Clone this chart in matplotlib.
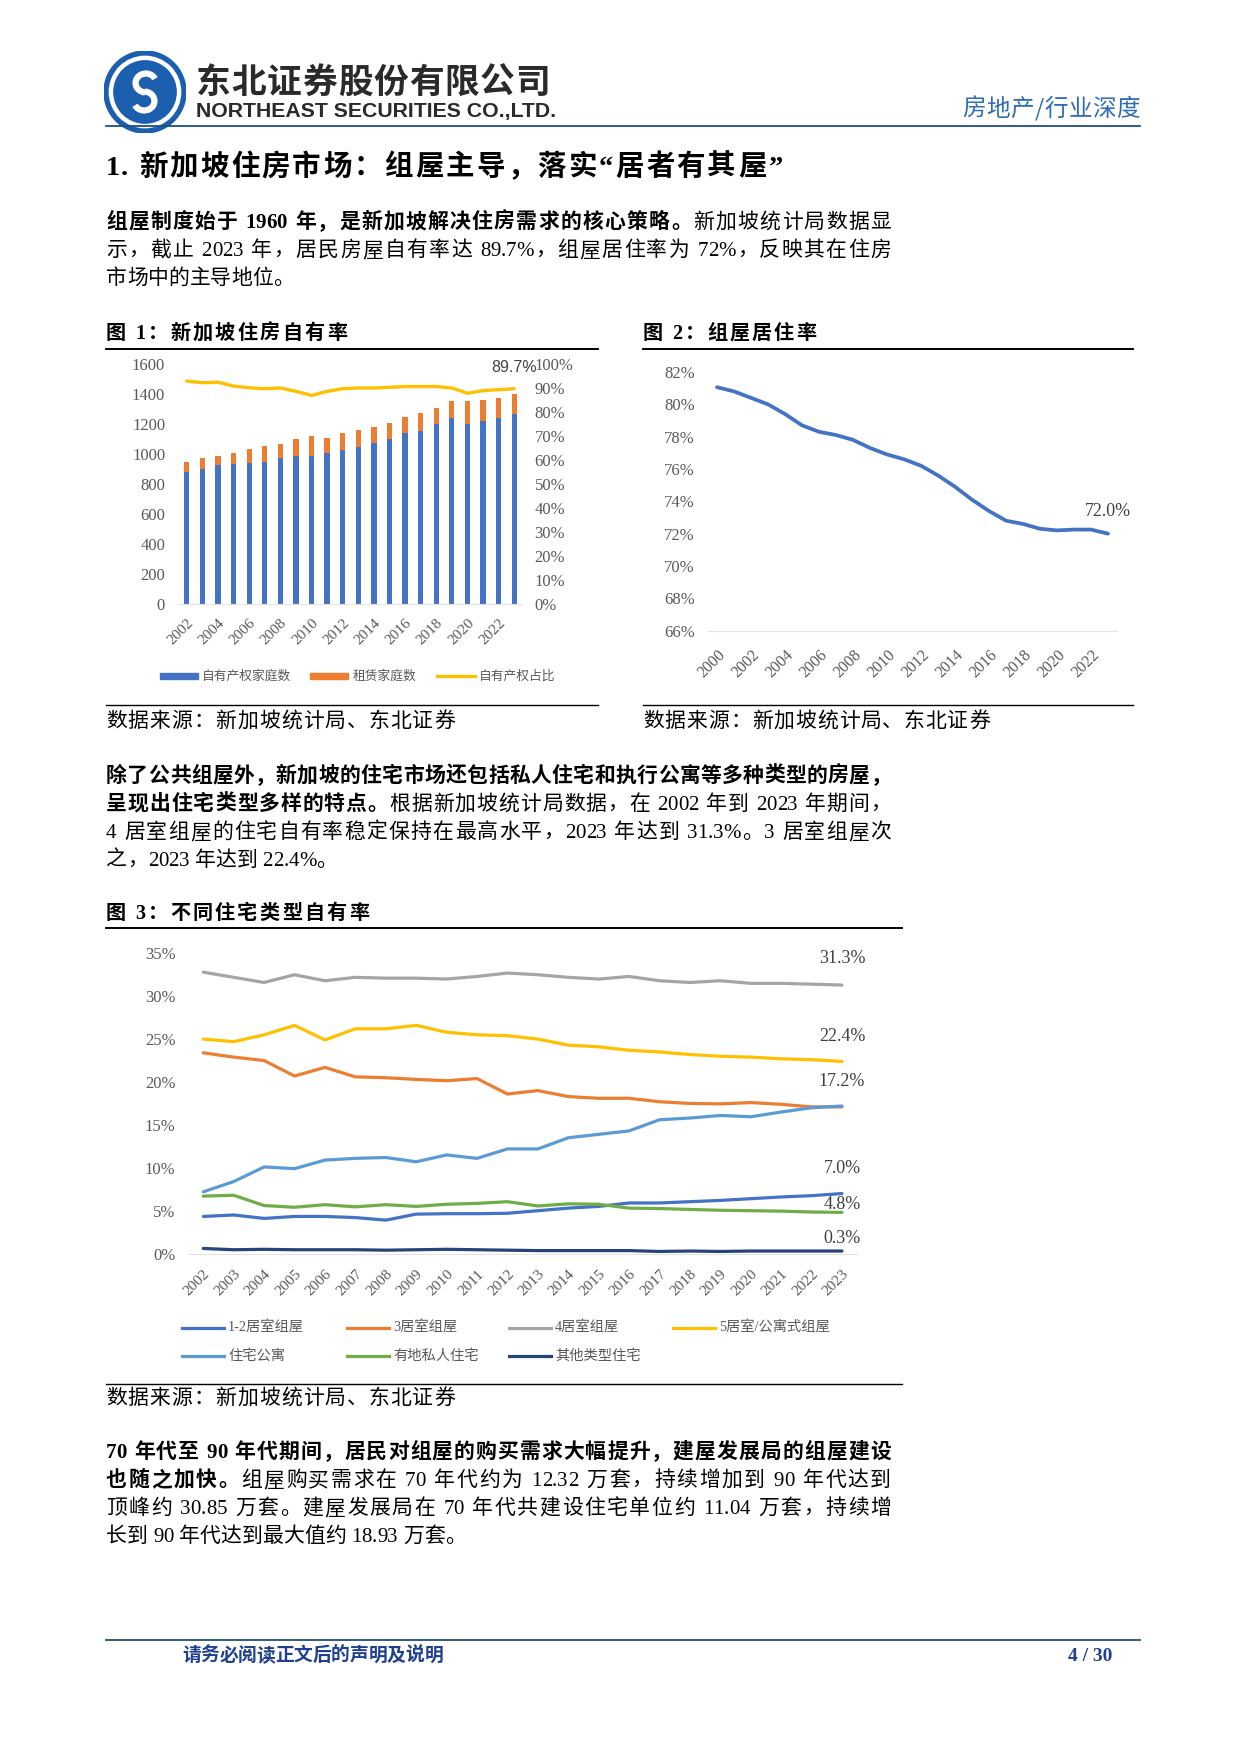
import numpy as np
import matplotlib.pyplot as plt
from matplotlib.lines import Line2D
from matplotlib.patches import Circle, Arc, Rectangle
from matplotlib.font_manager import FontProperties, findfont, get_font

W, H = 1241, 1754
CJK = 'Noto Sans CJK SC'
SERIF = ['Liberation Serif', CJK]
SANS = ['Liberation Sans', CJK]
plt.rcParams['font.family'] = SERIF

# ---- data ----
# fig 1: households (thousands) and home ownership rate
years1 = list(range(2002, 2024))
own_hh = [882, 898, 927, 933, 938, 949, 971, 987, 987, 1004, 1027, 1049,
          1071, 1098, 1142, 1156, 1200, 1238, 1200, 1220, 1238, 1267]
rent_hh = [67, 73, 60, 71, 93, 104, 96, 115, 133, 105, 111, 111,
           111, 111, 102, 115, 109, 118, 153, 140, 133, 133]
own_rate = [92.9, 92.2, 92.4, 90.8, 90.1, 89.7, 90.0, 88.6, 86.9, 88.6, 89.7, 90.0,
            90.0, 90.3, 90.6, 90.6, 90.6, 90.0, 87.8, 88.9, 89.3, 89.7]
legend1 = ['自有产权家庭数', '租赁家庭数', '自有产权占比']

# fig 2: share living in HDB flats
years2 = list(range(2000, 2024))
hdb_rate = [81.06, 80.8, 80.4, 80.0, 79.4, 78.7, 78.3, 78.1, 77.8, 77.3, 76.9, 76.6,
            76.2, 75.6, 74.9, 74.1, 73.4, 72.8, 72.6, 72.3, 72.2, 72.25, 72.25, 72.0]

# fig 3: ownership rate by dwelling type
years3 = list(range(2002, 2024))
names3 = ['1-2居室组屋', '3居室组屋', '4居室组屋', '5居室/公寓式组屋',
          '住宅公寓', '有地私人住宅', '其他类型住宅']
room12 = [4.33, 4.5, 4.1, 4.33, 4.33, 4.2, 3.9, 4.6, 4.65, 4.65, 4.7, 5.0,
          5.3, 5.5, 5.9, 5.9, 6.05, 6.2, 6.4, 6.6, 6.75, 7.0]
room3 = [23.4, 22.9, 22.5, 20.7, 21.7, 20.6, 20.5, 20.3, 20.15, 20.4, 18.6, 19.0,
         18.3, 18.1, 18.1, 17.7, 17.5, 17.45, 17.6, 17.4, 17.1, 17.1]
room4 = [32.8, 32.2, 31.6, 32.5, 31.8, 32.2, 32.1, 32.1, 32.0, 32.3, 32.7, 32.5,
         32.2, 32.0, 32.3, 31.8, 31.6, 31.8, 31.5, 31.5, 31.4, 31.3]
room5 = [25.0, 24.7, 25.5, 26.6, 24.9, 26.2, 26.2, 26.6, 25.8, 25.5, 25.4, 25.0,
         24.3, 24.1, 23.7, 23.5, 23.2, 23.0, 22.9, 22.7, 22.6, 22.4]
condo = [7.2, 8.4, 10.1, 9.9, 10.9, 11.1, 11.2, 10.7, 11.5, 11.1, 12.2, 12.2,
         13.5, 13.9, 14.3, 15.6, 15.8, 16.1, 15.95, 16.5, 17.0, 17.2]
landed = [6.7, 6.8, 5.6, 5.4, 5.7, 5.45, 5.7, 5.5, 5.75, 5.85, 6.05, 5.55,
          5.8, 5.75, 5.3, 5.25, 5.15, 5.05, 5.0, 4.95, 4.85, 4.8]
others = [0.6, 0.45, 0.5, 0.45, 0.45, 0.45, 0.4, 0.45, 0.5, 0.45, 0.4, 0.35,
          0.35, 0.35, 0.35, 0.25, 0.3, 0.25, 0.3, 0.3, 0.3, 0.3]
series3 = [room12, room3, room4, room5, condo, landed, others]
colors3 = ['#4472C4', '#ED7D31', '#A5A5A5', '#FFC000', '#5B9BD5', '#70AD47', '#264478']
end_labels3 = ['7.0%', '17.2%', '31.3%', '22.4%', None, '4.8%', '0.3%']

TICK = '#595959'

fig = plt.figure(figsize=(W / 100, H / 100), dpi=100)


def fx(x):
    return x / W


def fy(y):
    return 1 - y / H


def hline(x0, x1, y, color='black', lw=1.0):
    fig.add_artist(Line2D([fx(x0), fx(x1)], [fy(y), fy(y)], color=color, lw=lw))


def advance(c, family, size, weight):
    for fam in family:
        f = get_font(findfont(FontProperties(family=fam, weight=weight)))
        if f.get_char_index(ord(c)):
            f.set_size(size, 100)
            return f.load_char(ord(c)).linearHoriAdvance / 65536
    return size * 100 / 72 * 0.5


def text_line(runs, x0, y, x1=None, size=15, family=SERIF, color='black'):
    # draws a line char by char so it can be justified like the word page
    chars, weights = [], []
    for s, bold in runs:
        for c in s:
            chars.append(c)
            weights.append('bold' if bold else 'normal')
    widths = [advance(c, family, size, w) for c, w in zip(chars, weights)]
    gaps = []
    for k in range(len(chars) - 1):
        a, b = chars[k], chars[k + 1]
        tight = a.isascii() and b.isascii() and a != ' ' and b != ' '
        gaps.append(not tight)
    extra = 0
    if x1 is not None and sum(gaps):
        extra = (x1 - x0 - sum(widths)) / sum(gaps)
    x = x0
    for k, c in enumerate(chars):
        if c != ' ':
            fig.text(fx(x), fy(y), c, fontsize=size, fontweight=weights[k],
                     family=family, color=color, va='baseline', ha='left')
        x += widths[k]
        if k < len(gaps) and gaps[k]:
            x += extra


# ---- header ----
lax = fig.add_axes([fx(104), fy(133), 82 / W, 82 / H])
lax.set_xlim(-1, 1)
lax.set_ylim(-1, 1)
lax.axis('off')
LOGO = '#1C5FAE'
lax.add_patch(Circle((0, 0), 1.0, color=LOGO))
lax.add_patch(Circle((0, 0), 0.87, color='white'))
lax.add_patch(Circle((0, 0), 0.76, color=LOGO))
lax.add_patch(Arc((0.02, 0.22), 0.5, 0.46, theta1=25, theta2=265, color='white', lw=4.5))
lax.add_patch(Arc((-0.02, -0.22), 0.5, 0.46, theta1=205, theta2=445, color='white', lw=4.5))

text_line([('东北证券股份有限公司', True)], 196, 93, x1=550, size=25, family=[CJK], color='#2A2A2A')
fig.text(fx(196), fy(117), 'NORTHEAST SECURITIES CO.,LTD.', fontsize=15.3, fontweight='bold',
         family=['Liberation Sans Narrow', 'Liberation Sans'], color='#2A2A2A', va='baseline')
text_line([('房地产/行业深度', False)], 962, 116, x1=1140, size=17, family=[CJK], color='#2E6DB4')
hline(106, 1140, 126, color='#1F4E79', lw=1.3)

# ---- heading and paragraph 1 ----
text_line([('1. ', True), ('新加坡住房市场：组屋主导，落实“居者有其屋”', True)], 106, 175, x1=783, size=20.5)
p1 = [[('组屋制度始于 1960 年，是新加坡解决住房需求的核心策略。', True), ('新加坡统计局数据显', False)],
      [('示，截止 2023 年，居民房屋自有率达 89.7%，组屋居住率为 72%，反映其在住房', False)],
      [('市场中的主导地位。', False)]]
for i, runs in enumerate(p1):
    text_line(runs, 106, 228 + 28 * i, x1=891 if i < 2 else None)

# ---- figure titles / frames ----
text_line([('图 1：新加坡住房自有率', True)], 106, 339, x1=347, size=14.5)
text_line([('图 2：组屋居住率', True)], 643, 339, x1=816, size=14.5)
hline(106, 598, 349, lw=1.4)
hline(643, 1133, 349, lw=1.4)
hline(106, 598, 705, lw=1.0)
hline(643, 1133, 705, lw=1.0)
text_line([('数据来源：新加坡统计局、东北证券', False)], 106, 727, x1=455, size=15)
text_line([('数据来源：新加坡统计局、东北证券', False)], 643, 727, x1=990, size=15)

# ---- fig 1 ----
ax1 = fig.add_axes([fx(179), fy(604), (522 - 179) / W, (604 - 364) / H])
x1 = np.arange(len(years1))
ax1.bar(x1, own_hh, width=0.34, color='#4472C4', zorder=2)
ax1.bar(x1, rent_hh, width=0.34, bottom=own_hh, color='#ED7D31', zorder=2)
ax1.set_xlim(-0.5, len(years1) - 0.5)
ax1.set_ylim(0, 1600)
ax1.set_yticks(range(0, 1601, 200))
ax1.set_xticks(x1[::2])
ax1.set_xticklabels([str(y) for y in years1[::2]], rotation=45, ha='right', va='top',
                    rotation_mode='anchor', fontsize=11, color=TICK)
ax1.tick_params(axis='y', length=0, pad=10, labelsize=12, labelcolor=TICK)
ax1.tick_params(axis='x', length=0, pad=9)
for s in ['top', 'right', 'left']:
    ax1.spines[s].set_visible(False)
ax1.spines['bottom'].set_color('#E3E3E3')
ax1b = ax1.twinx()
ax1b.plot(x1, own_rate, color='#FFC000', lw=2.4, solid_capstyle='round', zorder=3)
ax1b.set_ylim(0, 100)
ax1b.set_yticks(range(0, 101, 10))
ax1b.set_yticklabels([f'{v}%' for v in range(0, 101, 10)])
ax1b.tick_params(axis='y', length=0, pad=9, labelsize=12, labelcolor=TICK)
for s in ax1b.spines.values():
    s.set_visible(False)
ax1b.annotate(f'{own_rate[-1]}%', (x1[-1], own_rate[-1]), xytext=(0, 15), textcoords='offset points',
              ha='center', va='center', fontsize=11.5, family=SANS, color='#404040')

# fig 1 legend
fig.add_artist(Rectangle((fx(160), fy(679)), 38 / W, 6 / H, color='#4472C4', transform=fig.transFigure))
fig.add_artist(Rectangle((fx(310), fy(679)), 38 / W, 6 / H, color='#ED7D31', transform=fig.transFigure))
fig.add_artist(Line2D([fx(437), fx(475)], [fy(676), fy(676)], color='#FFC000', lw=2.4))
for xt, lab in zip([202, 353, 479], legend1):
    fig.text(fx(xt), fy(676), lab, fontsize=9.2, family=[CJK], color=TICK, va='center')

# ---- fig 2 ----
ax2 = fig.add_axes([fx(708.5), fy(630.6), (1116.5 - 708.5) / W, (630.6 - 372) / H])
x2 = np.arange(len(years2))
ax2.plot(x2, hdb_rate, color='#4472C4', lw=2.7, solid_capstyle='round')
ax2.set_xlim(-0.5, len(years2) - 0.5)
ax2.set_ylim(66, 82)
ax2.set_yticks(range(66, 83, 2))
ax2.set_yticklabels([f'{v}%' for v in range(66, 83, 2)])
ax2.set_xticks(x2[::2])
ax2.set_xticklabels([str(y) for y in years2[::2]], rotation=45, ha='right', va='top',
                    rotation_mode='anchor', fontsize=11.5, color=TICK)
ax2.tick_params(axis='y', length=0, pad=10, labelsize=12, labelcolor=TICK)
ax2.tick_params(axis='x', length=0, pad=12)
for s in ['top', 'right', 'left']:
    ax2.spines[s].set_visible(False)
ax2.spines['bottom'].set_color('#E3E3E3')
ax2.annotate(f'{hdb_rate[-1]:.1f}%', (x2[-1], hdb_rate[-1]), xytext=(0, 16), textcoords='offset points',
             ha='center', va='center', fontsize=13, color='#404040')

# ---- paragraph 2 ----
p2 = [[('除了公共组屋外，新加坡的住宅市场还包括私人住宅和执行公寓等多种类型的房屋，', True)],
      [('呈现出住宅类型多样的特点。', True), ('根据新加坡统计局数据，在 2002 年到 2023 年期间，', False)],
      [('4 居室组屋的住宅自有率稳定保持在最高水平，2023 年达到 31.3%。3 居室组屋次', False)],
      [('之，2023 年达到 22.4%。', False)]]
for i, runs in enumerate(p2):
    text_line(runs, 106, 782 + 28 * i, x1=891 if i < 3 else None)

# ---- fig 3 ----
text_line([('图 3：不同住宅类型自有率', True)], 106, 919, x1=369, size=14.5)
hline(106, 902, 928, lw=1.4)
hline(106, 902, 1384, lw=1.0)
text_line([('数据来源：新加坡统计局、东北证券', False)], 106, 1404, x1=455, size=15)

ax3 = fig.add_axes([fx(188.1), fy(1253.6), (857.2 - 188.1) / W, (1253.6 - 953.3) / H])
x3 = np.arange(len(years3))
label_offsets = [18, 18, 19, 18, 0, 6, 9]
for vals, col, lab, off in zip(series3, colors3, end_labels3, label_offsets):
    ax3.plot(x3, vals, color=col, lw=2.3, solid_capstyle='round')
    if lab:
        ax3.annotate(lab, (x3[-1], vals[-1]), xytext=(0, off), textcoords='offset points',
                     ha='center', va='center', fontsize=13, color='#404040')
ax3.set_xlim(-0.5, len(years3) - 0.5)
ax3.set_ylim(0, 35)
ax3.set_yticks(range(0, 36, 5))
ax3.set_yticklabels([f'{v}%' for v in range(0, 36, 5)])
ax3.set_xticks(x3)
ax3.set_xticklabels([str(y) for y in years3], rotation=45, ha='right', va='top',
                    rotation_mode='anchor', fontsize=11, color=TICK)
ax3.tick_params(axis='y', length=0, pad=9, labelsize=12, labelcolor=TICK)
ax3.tick_params(axis='x', length=0, pad=10)
for s in ['top', 'right', 'left']:
    ax3.spines[s].set_visible(False)
ax3.spines['bottom'].set_color('#E3E3E3')

# fig 3 legend (row-major, like excel)
leg_pos = [(182, 1328), (347, 1328), (509, 1328), (673, 1328),
           (182, 1356), (347, 1356), (509, 1356)]
for (lx, ly), col, name in zip(leg_pos, colors3, names3):
    fig.add_artist(Line2D([fx(lx), fx(lx + 42)], [fy(ly), fy(ly)], color=col, lw=2.3))
    fig.text(fx(lx + 46), fy(ly), name, fontsize=10.3, family=SERIF, color=TICK, va='center')

# ---- paragraph 3 ----
p3 = [[('70 年代至 90 年代期间，居民对组屋的购买需求大幅提升，建屋发展局的组屋建设', True)],
      [('也随之加快。', True), ('组屋购买需求在 70 年代约为 12.32 万套，持续增加到 90 年代达到', False)],
      [('顶峰约 30.85 万套。建屋发展局在 70 年代共建设住宅单位约 11.04 万套，持续增', False)],
      [('长到 90 年代达到最大值约 18.93 万套。', False)]]
for i, runs in enumerate(p3):
    text_line(runs, 106, 1458 + 28 * i, x1=891 if i < 3 else None)

# ---- footer ----
hline(106, 1140, 1640, color='#1F4E79', lw=1.3)
text_line([('请务必阅读正文后的声明及说明', True)], 182, 1661, x1=443, size=13.5, family=[CJK], color='#1F3F8F')
fig.text(fx(1112), fy(1661), '4 / 30', fontsize=14, fontweight='bold', color='#1F3F8F',
         ha='right', va='baseline')

fig.savefig('out.png', dpi=100)
